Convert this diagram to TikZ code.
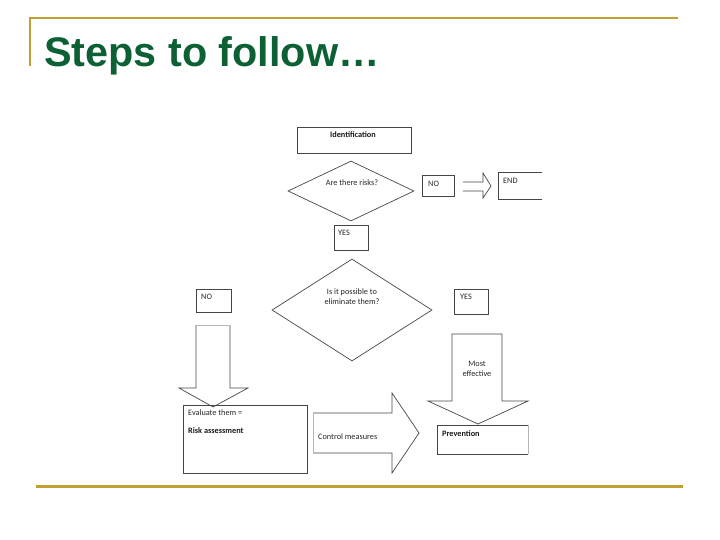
\documentclass[tikz,border=0pt]{standalone}
\usepackage{fontspec}
\setmainfont{Carlito}
\newfontfamily\titlefont{Liberation Sans}
\usetikzlibrary{shapes.geometric,calc}
\definecolor{gold}{RGB}{192,160,48}
\definecolor{titlegreen}{RGB}{12,96,52}
\definecolor{linegray}{RGB}{70,70,70}
\begin{document}
\begin{tikzpicture}[x=1bp,y=-1bp,
  shapeline/.style={draw=linegray,line width=0.7bp},
  faint/.style={draw=linegray!40,line width=0.6bp},
  box/.style={shapeline,rectangle,inner sep=0pt,anchor=north west},
  dia/.style={shapeline,diamond,inner sep=0pt},
  lbl/.style={font=\fontsize{8.3}{10}\selectfont,inner sep=0pt,text=black!85},
  blbl/.style={font=\fontsize{8.3}{10}\selectfont\bfseries,inner sep=0pt,text=black!90},
  goldline/.style={draw=gold,line width=2.6bp}]
\useasboundingbox (0,0) rectangle (720,540);
% frame lines
\draw[goldline] (30,18) -- (678,18);
\draw[goldline] (30,16.7) -- (30,66);
\draw[goldline,line width=3bp] (36,486) -- (683,486);
% title
\node[anchor=base west,inner sep=0pt,text=titlegreen,font=\titlefont\bfseries\fontsize{41.5}{48}\selectfont] (title) at (44,67) {Steps to follow…};
% boxes
\node[box,minimum width=114bp,minimum height=26bp] (ident) at (297,127) {};
\node[blbl] (identtxt) at (353,135) {Identification};
\node[dia,minimum width=126bp,minimum height=60bp] (risks) at (351,191) {};
\node[lbl] (riskstxt) at (352,183) {Are there risks?};
\node[box,minimum width=32bp,minimum height=21bp] (no1) at (422,175) {};
\node[lbl,anchor=west] (no1txt) at (428,184) {NO};
\coordinate (end) at (498,172);
\draw[shapeline] (542,172) -| (498,199) -- (542,199);
\node[lbl,anchor=west] (endtxt) at (503,181) {END};
\node[box,minimum width=34bp,minimum height=25bp] (yes1) at (334,225) {};
\node[lbl,anchor=west] (yes1txt) at (338,233) {YES};
\node[dia,minimum width=160bp,minimum height=102bp] (elim) at (352,310) {};
\node[lbl] (elimtxt1) at (352,292) {Is it possible to};
\node[lbl] (elimtxt2) at (352,302) {eliminate them?};
\node[box,minimum width=35bp,minimum height=23bp] (no2) at (196,289) {};
\node[lbl,anchor=west] (no2txt) at (201,297) {NO};
\node[box,minimum width=34bp,minimum height=25bp] (yes2) at (454,289) {};
\node[lbl,anchor=west] (yes2txt) at (460,297) {YES};
\node[box,minimum width=124bp,minimum height=68bp] (eval) at (183,405) {};
\node[lbl,anchor=west] (evaltxt) at (188,413) {Evaluate them =};
\node[blbl,anchor=west] (risktxt) at (188,431) {Risk assessment};
\coordinate (prev) at (437,425);
\draw[shapeline] (528,425) -| (437,454) -- (528,454);
\draw[faint] (528,425) -- (528,454);
\node[blbl,anchor=west] (prevtxt) at (442,434) {Prevention};
% hollow arrow NO -> END
\draw[shapeline] (463,182) -- (483,182) -- (483,173) -- (491,186) -- (483,198) -- (483,191) -- (463,191);
% left down block arrow
\draw[shapeline] (196,325) -- (196,388) -- (179,388) -- (213,407) -- (248,388) -- (230,388) -- (230,325);
\draw[faint] (196,325) -- (230,325);
% right down block arrow (Most effective)
\draw[shapeline] (452,334) -- (452,401) -- (428,401) -- (478,424) -- (528,401) -- (502,401) -- (502,334) -- cycle;
\node[lbl] (most1) at (477,364) {Most};
\node[lbl] (most2) at (477,374) {effective};
% control measures block arrow
\draw[shapeline] (313,413) -- (392,413) -- (392,393) -- (419,433) -- (392,473) -- (392,453) -- (313,453);
\draw[faint] (313,413) -- (313,453);
\node[lbl,anchor=west] (ctrltxt) at (318,437) {Control measures};
\end{tikzpicture}
\end{document}
